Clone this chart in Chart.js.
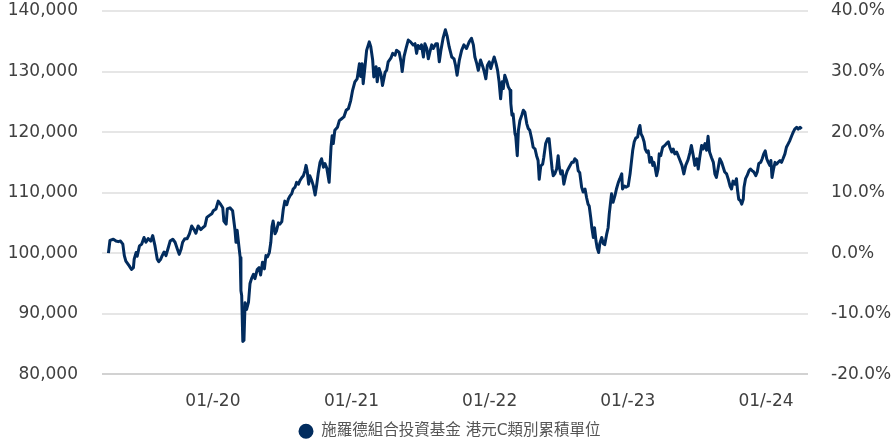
<!DOCTYPE html>
<html>
<head>
<meta charset="utf-8">
<script src="https://cdn.jsdelivr.net/npm/chart.js@4.4.1/dist/chart.umd.min.js"></script>
<style>
  html, body { margin: 0; padding: 0; background: #fff; }
  #wrap { width: 893px; height: 442px; }
</style>
</head>
<body>
<div id="wrap"><canvas id="navChart"></canvas></div>
<script>
// 每日累積單位價值
const dates = [
  '2019-03-31','2019-04-04','2019-04-13','2019-04-20','2019-04-26','2019-05-02','2019-05-08','2019-05-12','2019-05-16','2019-05-25',
  '2019-05-31','2019-06-05','2019-06-07','2019-06-12','2019-06-15','2019-06-21','2019-06-27','2019-07-03','2019-07-08','2019-07-14',
  '2019-07-21','2019-07-26','2019-08-01','2019-08-07','2019-08-11','2019-08-16','2019-08-20','2019-08-25','2019-08-30','2019-09-05',
  '2019-09-10','2019-09-17','2019-09-23','2019-09-29','2019-10-04','2019-10-09','2019-10-13','2019-10-19','2019-10-25','2019-10-31',
  '2019-11-06','2019-11-12','2019-11-17','2019-11-23','2019-11-30','2019-12-05','2019-12-11','2019-12-16','2019-12-22','2019-12-29',
  '2020-01-02','2020-01-09','2020-01-15','2020-01-22','2020-01-27','2020-01-30','2020-02-05','2020-02-08','2020-02-15','2020-02-22',
  '2020-02-28','2020-03-02','2020-03-05','2020-03-09','2020-03-13','2020-03-15','2020-03-17','2020-03-20','2020-03-23','2020-03-26',
  '2020-03-30','2020-04-04','2020-04-08','2020-04-12','2020-04-17','2020-04-21','2020-04-27','2020-05-02','2020-05-06','2020-05-11',
  '2020-05-16','2020-05-20','2020-05-24','2020-05-29','2020-06-02','2020-06-05','2020-06-08','2020-06-13','2020-06-17','2020-06-22',
  '2020-06-26','2020-07-01','2020-07-05','2020-07-09','2020-07-14','2020-07-18','2020-07-23','2020-07-27','2020-07-31','2020-08-05',
  '2020-08-09','2020-08-14','2020-08-18','2020-08-23','2020-08-27','2020-08-31','2020-09-03','2020-09-06','2020-09-10','2020-09-13',
  '2020-09-18','2020-09-22','2020-09-27','2020-10-01','2020-10-05','2020-10-10','2020-10-14','2020-10-19','2020-10-23','2020-10-28',
  '2020-11-03','2020-11-08','2020-11-11','2020-11-14','2020-11-18','2020-11-25','2020-11-30','2020-12-06','2020-12-12','2020-12-18',
  '2020-12-24','2020-12-30',
  '2021-01-04','2021-01-10','2021-01-16','2021-01-22','2021-01-25','2021-01-29','2021-02-01','2021-02-06','2021-02-10','2021-02-17',
  '2021-02-21','2021-02-26','2021-03-01','2021-03-07','2021-03-10','2021-03-15','2021-03-20','2021-03-24','2021-03-31','2021-04-04',
  '2021-04-08','2021-04-15','2021-04-20','2021-04-26','2021-04-30','2021-05-07','2021-05-12','2021-05-15','2021-05-20','2021-05-25',
  '2021-05-31','2021-06-06','2021-06-13','2021-06-18','2021-06-22','2021-06-26','2021-07-01','2021-07-05','2021-07-10','2021-07-14',
  '2021-07-19','2021-07-23','2021-07-27','2021-08-01','2021-08-05','2021-08-12','2021-08-16','2021-08-21','2021-08-25','2021-08-31',
  '2021-09-06','2021-09-11','2021-09-16','2021-09-23','2021-09-29','2021-10-03','2021-10-07','2021-10-13','2021-10-19','2021-10-25',
  '2021-11-01','2021-11-08','2021-11-14','2021-11-19','2021-11-23','2021-11-28','2021-12-02','2021-12-08','2021-12-14','2021-12-18',
  '2021-12-22','2021-12-26','2021-12-31',
  '2022-01-04','2022-01-09','2022-01-13','2022-01-18','2022-01-22','2022-01-26','2022-01-30','2022-02-03','2022-02-06','2022-02-10',
  '2022-02-15','2022-02-19','2022-02-24','2022-02-26','2022-03-01','2022-03-04','2022-03-09','2022-03-11','2022-03-15','2022-03-18',
  '2022-03-22','2022-03-27','2022-03-31','2022-04-04','2022-04-09','2022-04-13','2022-04-17','2022-04-22','2022-04-26','2022-05-01',
  '2022-05-05','2022-05-09','2022-05-12','2022-05-16','2022-05-21','2022-05-24','2022-05-29','2022-06-03','2022-06-07','2022-06-11',
  '2022-06-15','2022-06-18','2022-06-22','2022-06-27','2022-07-01','2022-07-04','2022-07-08','2022-07-12','2022-07-16','2022-07-21',
  '2022-07-25','2022-07-30','2022-08-06','2022-08-10','2022-08-14','2022-08-19','2022-08-23','2022-08-27','2022-09-01','2022-09-05',
  '2022-09-10','2022-09-14','2022-09-18','2022-09-21','2022-09-25','2022-09-28','2022-10-02','2022-10-05','2022-10-09','2022-10-12',
  '2022-10-16','2022-10-19','2022-10-24','2022-10-28','2022-11-01','2022-11-06','2022-11-10','2022-11-13','2022-11-17','2022-11-19',
  '2022-11-23','2022-11-28','2022-12-02','2022-12-07','2022-12-11','2022-12-16','2022-12-18','2022-12-23','2022-12-27',
  '2023-01-02','2023-01-07','2023-01-10','2023-01-14','2023-01-18','2023-01-22','2023-01-27','2023-01-30','2023-02-02','2023-02-05',
  '2023-02-09','2023-02-13','2023-02-16','2023-02-20','2023-02-24','2023-02-28','2023-03-04','2023-03-08','2023-03-11','2023-03-14',
  '2023-03-18','2023-03-22','2023-03-25','2023-03-29','2023-04-03','2023-04-09','2023-04-13','2023-04-18','2023-04-22','2023-04-27',
  '2023-05-01','2023-05-05','2023-05-10','2023-05-14','2023-05-19','2023-05-24','2023-05-29','2023-06-03','2023-06-09','2023-06-14',
  '2023-06-18','2023-06-23','2023-06-27','2023-07-02','2023-07-06','2023-07-10','2023-07-15','2023-07-19','2023-07-24','2023-07-28',
  '2023-08-01','2023-08-05','2023-08-10','2023-08-15','2023-08-19','2023-08-23','2023-08-28','2023-09-01','2023-09-06','2023-09-10',
  '2023-09-14','2023-09-19','2023-09-23','2023-09-28','2023-10-02','2023-10-06','2023-10-11','2023-10-15','2023-10-18','2023-10-21',
  '2023-10-25','2023-10-29','2023-11-02','2023-11-04','2023-11-08','2023-11-12','2023-11-17','2023-11-21','2023-11-26','2023-11-30',
  '2023-12-05','2023-12-09','2023-12-13','2023-12-18','2023-12-22','2023-12-26','2023-12-30',
  '2024-01-03','2024-01-07','2024-01-11','2024-01-14','2024-01-17','2024-01-21','2024-01-25','2024-01-29','2024-02-02','2024-02-07',
  '2024-02-11','2024-02-15','2024-02-20','2024-02-24','2024-02-29','2024-03-04','2024-03-09','2024-03-13','2024-03-17','2024-03-22',
  '2024-03-26','2024-03-31','2024-04-04'
];

const nav = [
  100000,102100,102300,102000,101900,102000,101500,99600,98700,97900,
  97300,97600,99000,100100,99500,101200,101500,102600,101800,102400,
  102000,102900,101200,99000,98600,99000,99600,100200,99600,100900,
  102000,102300,101800,100700,99800,100700,101800,102400,102400,103200,
  104500,103900,103300,104500,103900,104200,104500,105900,106200,106500,
  107000,107300,108600,108000,107500,105300,104800,107300,107500,107000,
  104000,101800,103800,101500,99300,93800,93000,85400,85600,91800,
  90700,91900,95000,95800,96500,95800,97300,97600,96400,98500,
  97400,99600,99400,100100,101800,104400,105300,103200,103700,105000,
  104800,105200,107300,108600,108000,108900,109500,109800,110600,110900,
  111700,111400,112000,112500,112800,113600,114500,113600,111400,112800,
  112000,111200,109600,111200,113100,115000,115600,114200,114800,114000,
  111700,117500,119400,118100,120300,120800,121900,122200,122500,123600,
  123900,125200,
  126900,128300,128800,131300,129200,131300,128000,131000,133500,134900,
  134100,131900,129100,130800,128300,130500,129500,127700,129900,130200,
  131600,132200,133000,132700,133500,133200,131600,130000,132500,133800,
  135200,134900,134400,134600,133000,134300,133800,134400,132400,134600,
  133800,132100,133200,134400,133800,134600,134600,131600,133400,135500,
  136900,135800,134100,132400,132100,131000,129400,131900,133500,134400,
  133800,134900,135500,134400,132400,131300,130200,131900,130800,129900,
  128800,131000,131600,
  130500,131600,132400,131300,130200,128300,125500,128300,127200,129400,
  128500,127500,126900,124700,122800,123000,119700,119300,116100,120300,
  121900,122800,123600,123300,121400,120600,120300,118900,117500,117200,
  116100,115300,112200,114400,114700,115800,118100,118900,118900,116400,
  113900,112800,113100,113900,116100,114200,113100,113600,111400,112800,
  113600,114200,115000,115000,115600,115300,113600,113300,110900,110100,
  110600,109200,108100,107800,105900,104200,102600,104200,102000,100900,
  100100,101600,102600,101600,101400,103100,104200,106500,108700,109800,
  108400,109500,110600,111700,112300,113100,110600,111100,110900,
  111100,113100,114800,117000,118400,119000,119200,120500,121100,119700,
  119200,118400,117200,116700,116900,115000,115800,114500,115000,114200,
  112800,113900,116400,116100,117500,117800,118100,118400,117500,116700,
  117200,116400,116700,116100,115300,114500,113100,114500,115400,116600,
  117800,116100,114500,115600,113900,115800,117800,117200,118100,117000,
  119300,116700,115800,115000,113100,112500,114200,115600,115000,114200,
  113400,113100,112300,111100,110600,111900,111400,112300,110300,108900,
  108700,108100,108900,110900,112300,112800,113600,113900,113600,113400,
  112800,113400,114800,115000,115600,116400,116900,
  115600,115000,114500,115300,112500,113900,115000,114700,115000,115300,
  115000,115600,116400,117500,118100,118600,119400,120000,120500,120800,
  120500,120800,120500
];

const tickDates = ['2020-01-01', '2021-01-01', '2022-01-01', '2023-01-01', '2024-01-01'];
const tickLabels = ['01/-20', '01/-21', '01/-22', '01/-23', '01/-24'];
const xRange = ['2019-03-14', '2024-04-21'];
const seriesName = '施羅德組合投資基金 港元C類別累積單位';

Chart.defaults.font.family = "'DejaVu Sans', 'Noto Sans CJK TC', sans-serif";
Chart.defaults.font.size = 17;
Chart.defaults.color = '#404040';

const navy = '#022c5e';
const points = dates.map((d, i) => ({ x: Date.parse(d), y: nav[i] }));

// 固定軸的大小, 不讓 Chart.js 自己加 padding
const fixWidth = w => axis => {
  axis.width = w;
  axis.paddingTop = 0;
  axis.paddingBottom = 0;
};

new Chart(document.getElementById('navChart'), {
  type: 'line',
  data: {
    datasets: [{
      label: seriesName,
      data: points,
      borderColor: navy,
      backgroundColor: navy,
      borderWidth: 3,
      pointRadius: 0,
      pointStyle: 'circle',
      tension: 0,
      borderJoinStyle: 'round',
      yAxisID: 'y'
    }]
  },
  options: {
    responsive: true,
    maintainAspectRatio: false,
    animation: false,
    layout: { padding: { left: 7, right: 1, top: 11, bottom: -7 } },
    plugins: {
      tooltip: { enabled: false },
      legend: {
        position: 'bottom',
        labels: {
          usePointStyle: true,
          boxWidth: 15,
          boxHeight: 8.5,
          padding: 13.25,
          color: '#555555',
          font: { size: 15.5 }
        }
      }
    },
    scales: {
      x: {
        type: 'linear',
        min: Date.parse(xRange[0]),
        max: Date.parse(xRange[1]),
        afterBuildTicks: axis => {
          axis.ticks = tickDates.map(d => ({ value: Date.parse(d) }));
        },
        afterFit: axis => {
          axis.height = 36;
          axis.paddingLeft = 0;
          axis.paddingRight = 0;
        },
        ticks: {
          autoSkip: false,
          maxRotation: 0,
          padding: 17,
          callback: (v, i) => tickLabels[i]
        },
        grid: { display: false, drawTicks: false },
        border: { display: false }
      },
      y: {
        position: 'left',
        min: 80000,
        max: 140000,
        afterFit: fixWidth(95),
        ticks: {
          stepSize: 10000,
          padding: 24,
          callback: v => v.toLocaleString('en-US')
        },
        grid: {
          drawTicks: false,
          lineWidth: 2,
          color: ctx => ctx.tick && ctx.tick.value === 80000 ? '#d2d2d2' : '#e6e6e6'
        },
        border: { display: false }
      },
      y2: {
        position: 'right',
        min: -20,
        max: 40,
        afterFit: fixWidth(84),
        ticks: {
          stepSize: 10,
          padding: 23,
          callback: v => v.toFixed(1) + '%'
        },
        grid: { display: false, drawTicks: false },
        border: { display: false }
      }
    }
  }
});
</script>
</body>
</html>
